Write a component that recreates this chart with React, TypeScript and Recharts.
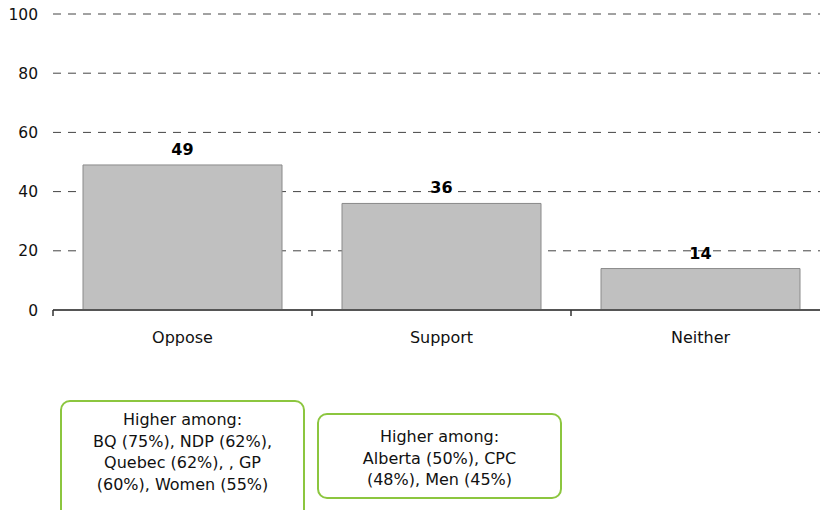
import { Bar, BarChart, CartesianGrid, LabelList, XAxis, YAxis } from 'recharts';

const categories = ['Oppose', 'Support', 'Neither'];
const values = [49, 36, 14];
const yTicks = [0, 20, 40, 60, 80, 100];

const opposeNote = ['Higher among:', 'BQ (75%), NDP (62%),', 'Quebec (62%), , GP', '(60%), Women (55%)'];
const supportNote = ['Higher among:', 'Alberta (50%), CPC', '(48%), Men (45%)'];

const data = categories.map((name, i) => ({ name, value: values[i] }));

const CHART_W = 830;
const Y_AXIS_W = 53;
const STEP = (CHART_W - Y_AXIS_W) / categories.length;
const TICK_MARGIN = 16;

const FONT = '"DejaVu Sans", Verdana, sans-serif';

function CategoryTick(props: any) {
  const { x, y, payload } = props;
  const edge = x - STEP / 2;
  // y sits at axis + tickSize (6) + tickMargin
  const axisY = y - 6 - TICK_MARGIN;
  return (
    <g>
      <line x1={edge} x2={edge} y1={axisY} y2={axisY + 6} stroke="#333" strokeWidth={1.5} />
      <text x={x} y={y} dy="0.71em" textAnchor="middle" fill="#111" fontSize={16} fontFamily={FONT}>
        {payload.value}
      </text>
    </g>
  );
}

function Note({ lines, left, top, width, height, padTop }: { lines: string[]; left: number; top: number; width: number; height: number; padTop: number }) {
  return (
    <div
      style={{
        position: 'absolute',
        left,
        top,
        width,
        height,
        boxSizing: 'border-box',
        border: '2px solid #8cc63f',
        borderRadius: 10,
        paddingTop: padTop,
        fontFamily: FONT,
        fontSize: 16,
        lineHeight: '21.5px',
        color: '#111',
        textAlign: 'center',
      }}
    >
      {lines.map((l) => (
        <div key={l}>{l}</div>
      ))}
    </div>
  );
}

export default function App() {
  return (
    <div style={{ position: 'fixed', left: 0, top: 0, width: 820, height: 510, overflow: 'hidden', background: '#fff' }}>
      <BarChart
        width={CHART_W}
        height={360}
        data={data}
        margin={{ top: 14, right: 0, bottom: 0, left: 0 }}
        barCategoryGap={30}
      >
        <CartesianGrid horizontal vertical={false} stroke="#444" strokeDasharray="8 7" />
        <XAxis
          dataKey="name"
          tick={<CategoryTick />}
          tickLine={false}
          tickMargin={TICK_MARGIN}
          axisLine={{ stroke: '#555', strokeWidth: 2 }}
          height={50}
        />
        <YAxis
          width={Y_AXIS_W}
          domain={[0, 100]}
          ticks={yTicks}
          axisLine={false}
          tickLine={false}
          tickMargin={9}
          tick={{ fill: '#111', fontSize: 15.5, fontFamily: FONT }}
        />
        <Bar dataKey="value" fill="#c0c0c0" stroke="#8a8a8a" strokeWidth={1} isAnimationActive={false}>
          <LabelList dataKey="value" position="top" offset={10} fill="#000" fontSize={16} fontWeight="bold" fontFamily={FONT} />
        </Bar>
      </BarChart>
      <Note lines={opposeNote} left={60} top={400} width={245} height={120} padTop={7} />
      <Note lines={supportNote} left={317} top={413} width={245} height={86} padTop={11} />
    </div>
  );
}
